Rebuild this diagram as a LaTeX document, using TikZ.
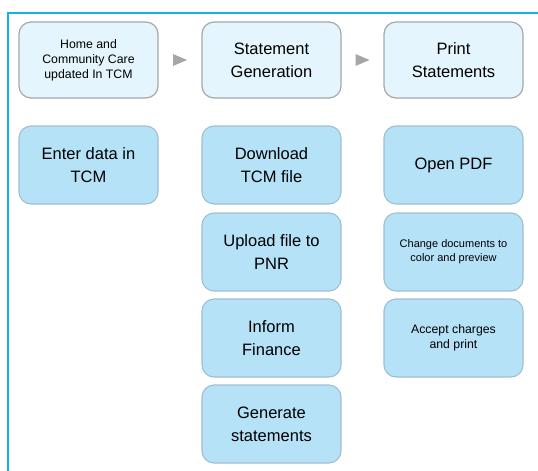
\documentclass[tikz,border=0pt]{standalone}
\usepackage{fontspec}
\setmainfont{Liberation Sans}
\usetikzlibrary{calc}
\definecolor{framecyan}{RGB}{20,176,232}
\definecolor{headfill}{RGB}{228,245,253}
\definecolor{headline}{RGB}{168,168,168}
\definecolor{stepfill}{RGB}{182,226,248}
\definecolor{stepline}{RGB}{160,190,210}
\definecolor{arrowgray}{RGB}{166,166,166}

\begin{document}
\begin{tikzpicture}[x=1pt,y=-1pt,
    headbox/.style={draw=headline,line width=1.2pt,fill=headfill,rounded corners=12pt,
        minimum width=139pt,minimum height=76pt,inner sep=0pt,align=center},
    stepbox/.style={draw=stepline,line width=1.1pt,fill=stepfill,rounded corners=12pt,
        minimum width=139pt,minimum height=78pt,inner sep=0pt,align=center},
    bigtext/.style={font=\fontsize{16.5}{23}\selectfont},
    smalltext/.style={font=\fontsize{12.3}{15}\selectfont},
    tinytext/.style={font=\fontsize{11}{14}\selectfont}]
            \useasboundingbox (0,0) rectangle (538,471);
            \draw[framecyan,line width=2pt] (8,472) -- (8,13) -- (539,13);
            % header row
            \node[headbox,smalltext] (hdHome) at (88.5,60) {Home and\\Community Care\\updated  In TCM};
            \node[headbox,bigtext] (hdGen) at (271.5,60) {Statement\\Generation};
            \node[headbox,bigtext] (hdPrint) at (453.5,60) {Print\\Statements};
            \fill[arrowgray] ($(hdHome.east)!0.5!(hdGen.west)$) ++(-7,-6) -- ++(14,6) -- ++(-14,6) -- cycle;
            \fill[arrowgray] ($(hdGen.east)!0.5!(hdPrint.west)$) ++(-7,-6) -- ++(14,6) -- ++(-14,6) -- cycle;
            % first column
            \node[stepbox,bigtext] (enter) at (88.5,165) {Enter  data  in\\TCM};
            % second column
            \node[stepbox,bigtext] (download) at (271.5,165) {Download\\TCM  file};
            \node[stepbox,bigtext] (upload) at (271.5,252) {Upload  file to\\PNR};
            \node[stepbox,bigtext] (inform) at (271.5,338) {Inform\\Finance};
            \node[stepbox,bigtext] (generate) at (271.5,424) {Generate\\statements};
            % third column
            \node[stepbox,bigtext] (openpdf) at (453.5,165) {Open  PDF};
            \node[stepbox,tinytext] (change) at (453.5,252) {Change documents to\\color and preview};
            \node[stepbox,smalltext] (accept) at (453.5,338) {Accept charges\\and print};
        \end{tikzpicture}
\end{document}
